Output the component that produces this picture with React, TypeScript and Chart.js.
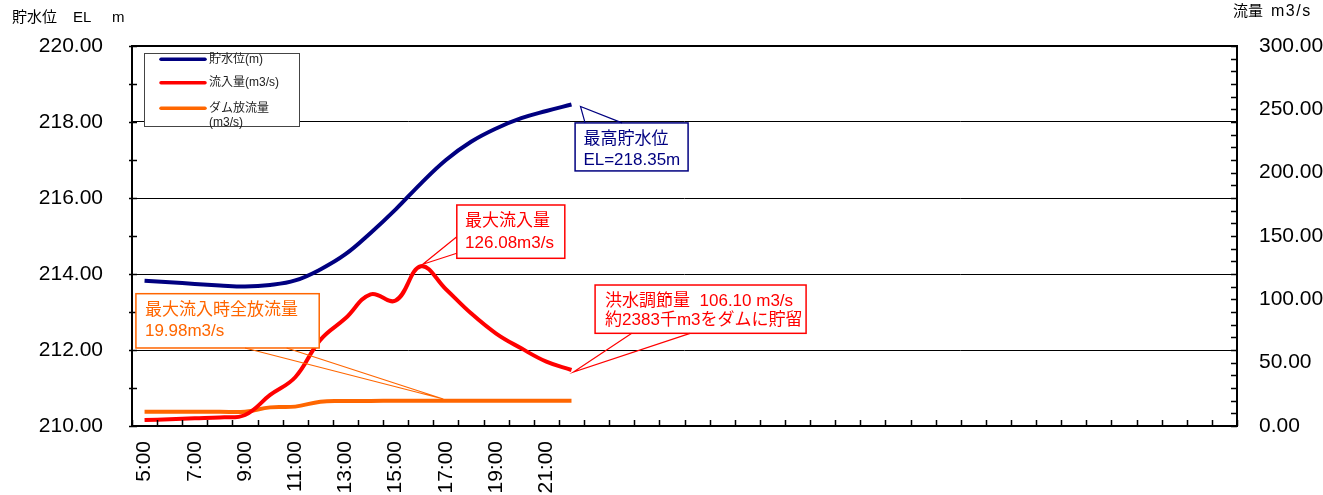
import React, { useEffect, useRef } from 'react';
import { Chart, registerables } from 'chart.js';

Chart.register(...registerables);

// ---- data ----
const timeLabels = ['5:00', '6:00', '7:00', '8:00', '9:00', '10:00', '11:00', '12:00', '13:00', '14:00', '15:00', '16:00', '17:00', '18:00', '19:00', '20:00', '21:00', '22:00'];
const emptyCategoryCount = 26;
const shownTickLabels = ['5:00', '7:00', '9:00', '11:00', '13:00', '15:00', '17:00', '19:00', '21:00'];

const storageLevel = [213.82, 213.78, 213.74, 213.7, 213.67, 213.71, 213.83, 214.12, 214.52, 215.08, 215.7, 216.38, 217.0, 217.48, 217.83, 218.1, 218.29, 218.46];
const inflow = [4.7, 5.3, 6.1, 6.8, 8.7, 24.5, 38.5, 68, 85, 104, 99, 126.08, 108, 89, 73, 61.3, 50.8, 44.2];
const outflow = [11.3, 11.3, 11.3, 11.3, 11.3, 14.7, 15.3, 19.2, 19.7, 19.8, 19.9, 19.98, 19.98, 19.9, 19.9, 19.9, 19.9, 19.9];

const seriesNames = ['貯水位(m)', '流入量(m3/s)', 'ダム放流量'];
const seriesNameExtra = ['', '', '(m3/s)'];

const leftAxisTitleParts = ['貯水位', 'EL', 'm'];
const rightAxisTitleParts = ['流量', 'm3/s'];

const calloutTextMaxLevel = ['最高貯水位', 'EL=218.35m'];
const calloutTextMaxInflow = ['最大流入量', '126.08m3/s'];
const calloutTextControl = ['洪水調節量  106.10 m3/s', '約2383千m3をダムに貯留'];
const calloutTextRelease = ['最大流入時全放流量', '19.98m3/s'];

const NAVY = '#000080';
const RED = '#FF0000';
const ORANGE = '#FF6600';
const FONT = '"Liberation Sans", Arial, "Noto Sans CJK JP", sans-serif';

type Callout = {
  ds: number; idx: number; tipDx: number; tipDy: number;
  bx: number; by: number; w: number; h: number;
  side: 'top' | 'bottom' | 'left'; a1: number; a2: number;
  color: string; lines: string[]; tx: number; ty: number[];
};

const callouts: Callout[] = [
  { ds: 0, idx: 17, tipDx: 9, tipDy: 2, bx: 3.6, by: 18.4, w: 113, h: 48, side: 'top', a1: 10, a2: 47, color: NAVY, lines: calloutTextMaxLevel, tx: 8.3, ty: [16.6, 37.3] },
  { ds: 1, idx: 11, tipDx: 2, tipDy: -2, bx: 36, by: -61.3, w: 108, h: 53.3, side: 'left', a1: 31.7, a2: 48.3, color: RED, lines: calloutTextMaxInflow, tx: 8.3, ty: [16, 38.3] },
  { ds: 1, idx: 17, tipDx: 2, tipDy: 2, bx: 23.6, by: -85, w: 211, h: 48.3, side: 'bottom', a1: 36.7, a2: 95, color: RED, lines: calloutTextControl, tx: 10, ty: [16.7, 35.7] },
  { ds: 2, idx: 12, tipDx: -2.6, tipDy: -1.7, bx: -310, by: -107, w: 183.3, h: 54.3, side: 'bottom', a1: 109, a2: 150.7, color: ORANGE, lines: calloutTextRelease, tx: 9, ty: [16.7, 37.7] },
];

const decorPlugin = {
  id: 'decor',
  afterDatasetsDraw(chart: any) {
    const { ctx, chartArea: ca, scales } = chart;
    const xs = scales.x, yl = scales.yL, yr = scales.yR;
    ctx.save();
    ctx.strokeStyle = '#000';
    ctx.lineWidth = 2;
    ctx.strokeRect(ca.left, ca.top, ca.right - ca.left, ca.bottom - ca.top);
    ctx.lineWidth = 1.5;
    ctx.beginPath();
    for (let v = 210; v <= 220; v += 1) {
      const y = Math.round(yl.getPixelForValue(v)) + 0.5;
      ctx.moveTo(ca.left - 3, y);
      ctx.lineTo(ca.left + 5, y);
    }
    for (let v = 0; v <= 300; v += 10) {
      const y = Math.round(yr.getPixelForValue(v)) + 0.5;
      ctx.moveTo(ca.right - 6, y);
      ctx.lineTo(ca.right, y);
    }
    const n = xs.getLabels().length;
    const cw = (ca.right - ca.left) / n;
    for (let i = 0; i <= n; i++) {
      const x = Math.round(ca.left + i * cw) + 0.5;
      ctx.moveTo(x, ca.bottom);
      ctx.lineTo(x, ca.bottom - 6);
    }
    ctx.stroke();
    ctx.restore();
  },
  afterDraw(chart: any) {
    const { ctx } = chart;
    ctx.save();
    // axis titles
    ctx.fillStyle = '#000';
    ctx.font = `15px ${FONT}`;
    ctx.textBaseline = 'middle';
    ctx.textAlign = 'left';
    ctx.fillText(leftAxisTitleParts[0], 12, 18);
    ctx.fillText(leftAxisTitleParts[1], 73, 18);
    ctx.fillText(leftAxisTitleParts[2], 112, 18);
    ctx.fillText(rightAxisTitleParts[0], 1233, 12);
    ctx.font = `16px ${FONT}`;
    (ctx as any).letterSpacing = '1.5px';
    ctx.fillText(rightAxisTitleParts[1], 1271, 12);
    (ctx as any).letterSpacing = '0px';

    // legend
    const lx = 144, ly = 53, lw = 155, lh = 73;
    ctx.fillStyle = '#fff';
    ctx.fillRect(lx, ly, lw, lh);
    ctx.strokeStyle = '#444';
    ctx.lineWidth = 1;
    ctx.strokeRect(lx + 0.5, ly + 0.5, lw, lh);
    const rowY = [59.3, 82.7, 108.3];
    chart.data.datasets.forEach((ds: any, i: number) => {
      ctx.strokeStyle = ds.borderColor;
      ctx.lineWidth = 3.5;
      ctx.lineCap = 'round';
      ctx.beginPath();
      ctx.moveTo(161, rowY[i]);
      ctx.lineTo(205, rowY[i]);
      ctx.stroke();
      ctx.fillStyle = '#222';
      ctx.font = `12px ${FONT}`;
      ctx.textAlign = 'left';
      ctx.textBaseline = 'middle';
      ctx.fillText(ds.label, 209, rowY[i]);
      if (seriesNameExtra[i]) ctx.fillText(seriesNameExtra[i], 209, rowY[i] + 14);
    });

    // callouts
    callouts.forEach((c) => {
      const meta = chart.getDatasetMeta(c.ds);
      const pt = meta.data[c.idx];
      if (!pt) return;
      const px = pt.x, py = pt.y;
      const tipX = px + c.tipDx, tipY = py + c.tipDy;
      const bx = px + c.bx, by = py + c.by;
      ctx.fillStyle = '#fff';
      ctx.fillRect(bx, by, c.w, c.h);
      ctx.strokeStyle = c.color;
      ctx.lineWidth = 1.5;
      ctx.lineCap = 'butt';
      ctx.strokeRect(bx, by, c.w, c.h);
      ctx.beginPath();
      let p1: number[], p2: number[];
      if (c.side === 'top') { p1 = [bx + c.a1, by]; p2 = [bx + c.a2, by]; }
      else if (c.side === 'bottom') { p1 = [bx + c.a1, by + c.h]; p2 = [bx + c.a2, by + c.h]; }
      else { p1 = [bx, by + c.a1]; p2 = [bx, by + c.a2]; }
      ctx.lineWidth = 1.2;
      ctx.moveTo(p1[0], p1[1]);
      ctx.lineTo(tipX, tipY);
      ctx.lineTo(p2[0], p2[1]);
      ctx.stroke();
      ctx.fillStyle = c.color;
      ctx.font = `17px ${FONT}`;
      ctx.textAlign = 'left';
      ctx.textBaseline = 'middle';
      c.lines.forEach((t, k) => ctx.fillText(t, bx + c.tx, by + c.ty[k]));
    });
    ctx.restore();
  },
};

export default function App() {
  const ref = useRef<HTMLCanvasElement | null>(null);
  useEffect(() => {
    if (!ref.current) return;
    const categories = [...timeLabels, ...Array(emptyCategoryCount).fill('')];
    const chart = new Chart(ref.current, {
      type: 'line',
      data: {
        labels: categories,
        datasets: [
          { label: seriesNames[0], data: storageLevel, yAxisID: 'yL', borderColor: NAVY, backgroundColor: NAVY, borderWidth: 4, pointRadius: 0, tension: 0.4, fill: false },
          { label: seriesNames[1], data: inflow, yAxisID: 'yR', borderColor: RED, backgroundColor: RED, borderWidth: 4, pointRadius: 0, tension: 0.4, fill: false },
          { label: seriesNames[2], data: outflow, yAxisID: 'yR', borderColor: ORANGE, backgroundColor: ORANGE, borderWidth: 4, pointRadius: 0, tension: 0.4, fill: false },
        ],
      },
      options: {
        animation: false,
        responsive: false,
        maintainAspectRatio: false,
        layout: { padding: { top: 46, left: 0, right: 0, bottom: 0 } },
        plugins: { legend: { display: false }, tooltip: { enabled: false }, title: { display: false } },
        scales: {
          x: {
            type: 'category',
            offset: true,
            grid: { display: false, drawTicks: false, offset: true },
            border: { display: false },
            ticks: {
              autoSkip: false,
              minRotation: 90,
              maxRotation: 90,
              padding: 15,
              color: '#000',
              font: { size: 21, family: FONT },
              callback: function (this: any, _v: any, i: number) {
                const l = categories[i];
                return shownTickLabels.includes(l) ? l : '';
              },
            },
            afterFit: (s: any) => { s.height = 69; },
          },
          yL: {
            type: 'linear',
            position: 'left',
            min: 210,
            max: 220,
            grid: { color: '#000', lineWidth: 1, drawTicks: false },
            border: { display: false },
            ticks: { stepSize: 2, padding: 29, color: '#000', font: { size: 21, family: FONT }, callback: (v: any) => Number(v).toFixed(2) },
            afterFit: (s: any) => { s.width = 132; },
          },
          yR: {
            type: 'linear',
            position: 'right',
            min: 0,
            max: 300,
            grid: { display: false, drawTicks: false },
            border: { display: false },
            ticks: { stepSize: 50, padding: 22, color: '#000', font: { size: 21, family: FONT }, callback: (v: any) => Number(v).toFixed(2) },
            afterFit: (s: any) => { s.width = 86; },
          },
        },
      },
      plugins: [decorPlugin],
    });
    return () => chart.destroy();
  }, []);
  return (
    <div style={{ position: 'fixed', left: 0, top: 0, width: 1323, height: 495, background: '#fff' }}>
      <canvas ref={ref} width={1323} height={495} style={{ width: 1323, height: 495 }} />
    </div>
  );
}
